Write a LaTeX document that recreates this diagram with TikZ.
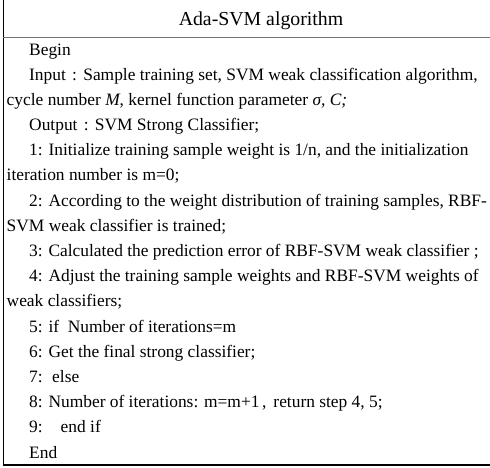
\documentclass[tikz,border=0pt]{standalone}
\usepackage{fontspec}
\setmainfont{Liberation Serif}
\begin{document}
\begin{tikzpicture}[x=1pt,y=-1pt,
  rowtext/.style={anchor=base west, inner sep=0pt, font=\fontsize{17.4}{20}\selectfont},
  headtext/.style={anchor=base, inner sep=0pt, font=\fontsize{19.8}{22}\selectfont},
  rule/.style={line width=1.3pt, line cap=rect}]
  % full-width punctuation: a serif mark set in a wide box
  \newcommand\wcolon{\makebox[1em][c]{:}}
  \newcommand\wcomma{\makebox[0.8em][l]{\hspace{0.15em},}}
  \useasboundingbox (0,0) rectangle (490,467);
  % frame of the table
  \draw[rule, black] (3.3,0) -- (3.3,465);
  \draw[rule, black!55] (3.3,37.3) -- (490,37.3);
  \draw[rule, black] (3.3,465) -- (490,465);
  % header
  \node[headtext] (head) at (261,25.7) {Ada-SVM algorithm};
  % algorithm body, one node per printed line
  \def\ind{29}
  \def\wrp{6.5}
  \def\lh{25.19}
  \node[rowtext] (l0)  at (\ind, 55+0*\lh)  {Begin};
  \node[rowtext] (l1)  at (\ind, 55+1*\lh)  {Input\wcolon Sample training set, SVM weak classification algorithm,};
  \node[rowtext] (l2)  at (\wrp, 55+2*\lh)  {cycle number \textit{M}, kernel function parameter \textit{σ, C;}};
  \node[rowtext] (l3)  at (\ind, 55+3*\lh)  {Output\wcolon SVM Strong Classifier;};
  \node[rowtext] (l4)  at (\ind, 55+4*\lh)  {1: Initialize training sample weight is 1/n, and the initialization};
  \node[rowtext] (l5)  at (\wrp, 55+5*\lh)  {iteration number is m=0;};
  \node[rowtext] (l6)  at (\ind, 55+6*\lh)  {2: According to the weight distribution of training samples, RBF-};
  \node[rowtext] (l7)  at (\wrp, 55+7*\lh)  {SVM weak classifier is trained;};
  \node[rowtext] (l8)  at (\ind, 55+8*\lh)  {3: Calculated the prediction error of RBF-SVM weak classifier ;};
  \node[rowtext] (l9)  at (\ind, 55+9*\lh)  {4: Adjust the training sample weights and RBF-SVM weights of};
  \node[rowtext] (l10) at (\wrp, 55+10*\lh) {weak classifiers;};
  \node[rowtext] (l11) at (\ind, 55+11*\lh) {5: if\ \ Number of iterations=m};
  \node[rowtext] (l12) at (\ind, 55+12*\lh) {6: Get the final strong classifier;};
  \node[rowtext] (l13) at (\ind, 55+13*\lh) {7:\hspace{9.5pt}else};
  \node[rowtext] (l14) at (\ind, 55+14*\lh) {8: Number of iterations: m=m+1\wcomma return step 4, 5;};
  \node[rowtext] (l15) at (\ind, 55+15*\lh) {9:\hspace{18pt}end if};
  \node[rowtext] (l16) at (\ind, 55+16*\lh) {End};
\end{tikzpicture}
\end{document}
